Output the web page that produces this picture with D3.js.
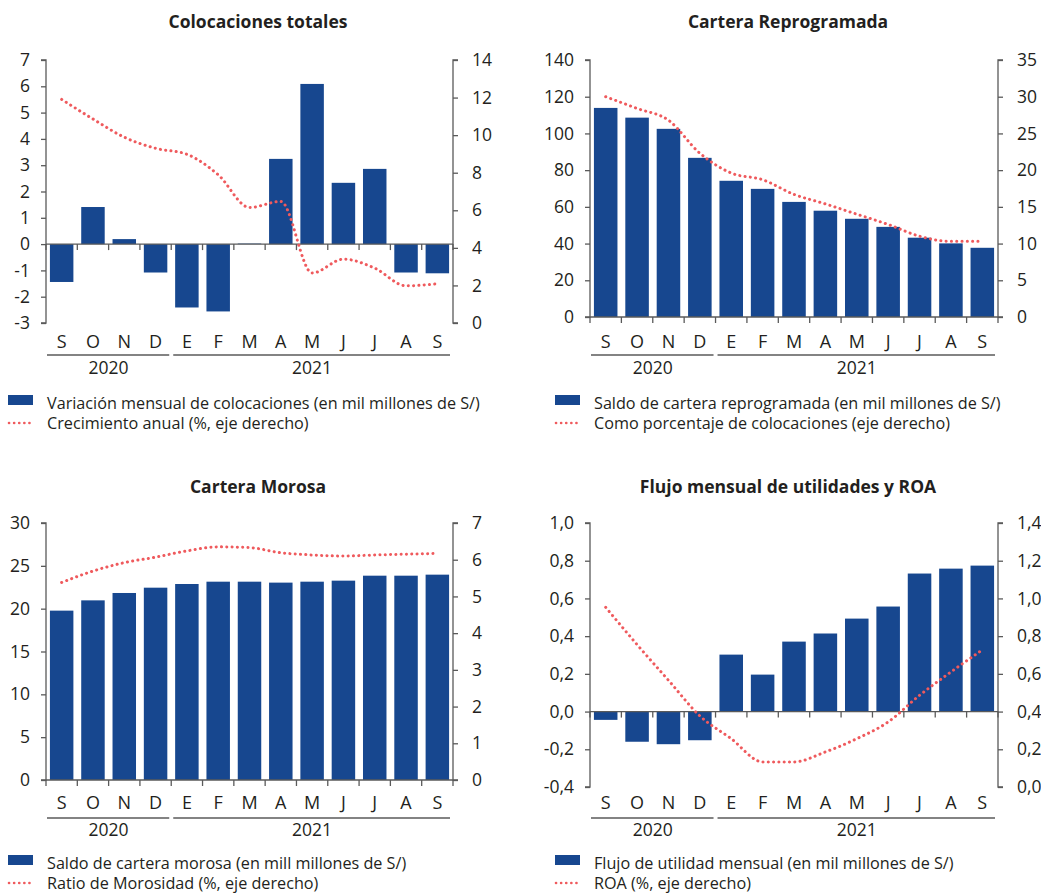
<!DOCTYPE html>
<html>
<head>
<meta charset="utf-8">
<script src="https://cdn.jsdelivr.net/npm/d3@7"></script>
<style>
  body { margin: 0; background: #fff; }
  text { font-family: "Open Sans", sans-serif; fill: #231f20; }
</style>
</head>
<body>
<svg id="chart" width="1041" height="894"></svg>
<script>
// Shared category axis
const months = ["S", "O", "N", "D", "E", "F", "M", "A", "M", "J", "J", "A", "S"];
const years = [
  { label: "2020", from: 0, to: 3 },
  { label: "2021", from: 4, to: 12 }
];

// Colocaciones totales
const colocVariacion = [-1.44, 1.41, 0.19, -1.08, -2.41, -2.56, 0.02, 3.24, 6.09, 2.33, 2.86, -1.08, -1.11];
const colocCrecimiento = [11.9, 10.86, 9.89, 9.3, 8.98, 7.89, 6.15, 6.47, 2.66, 3.4, 2.92, 1.98, 2.09];
const colocLeftTicks = [-3, -2, -1, 0, 1, 2, 3, 4, 5, 6, 7];
const colocRightTicks = [0, 2, 4, 6, 8, 10, 12, 14];

// Cartera Reprogramada
const reprogSaldo = [113.9, 108.6, 102.5, 86.7, 74.2, 69.8, 62.7, 57.9, 53.5, 49.1, 43.2, 40.1, 37.7];
const reprogPorcentaje = [30.0, 28.4, 26.8, 22.3, 19.6, 18.7, 16.7, 15.4, 14.0, 12.6, 11.0, 10.3, 10.3];
const reprogLeftTicks = [0, 20, 40, 60, 80, 100, 120, 140];
const reprogRightTicks = [0, 5, 10, 15, 20, 25, 30, 35];

// Cartera Morosa
const morosaSaldo = [19.77, 20.97, 21.83, 22.45, 22.88, 23.15, 23.15, 23.04, 23.15, 23.27, 23.85, 23.85, 23.97];
const morosaRatio = [5.38, 5.69, 5.92, 6.07, 6.24, 6.35, 6.33, 6.19, 6.13, 6.1, 6.13, 6.15, 6.17];
const morosaLeftTicks = [0, 5, 10, 15, 20, 25, 30];
const morosaRightTicks = [0, 1, 2, 3, 4, 5, 6, 7];

// Flujo mensual de utilidades y ROA
const utilidadFlujo = [-0.044, -0.16, -0.173, -0.152, 0.302, 0.196, 0.371, 0.414, 0.493, 0.557, 0.732, 0.758, 0.774];
const utilidadROA = [0.953, 0.755, 0.566, 0.377, 0.256, 0.133, 0.133, 0.186, 0.256, 0.345, 0.486, 0.61, 0.727];
const utilidadLeftTicks = [-0.4, -0.2, 0, 0.2, 0.4, 0.6, 0.8, 1.0];
const utilidadRightTicks = [0, 0.2, 0.4, 0.6, 0.8, 1.0, 1.2, 1.4];

const BAR = "#17478f";
const LINE = "#ef5a5d";
const AXIS = "#5a5a5a";

const intFmt = v => String(v);
const commaFmt = v => v.toFixed(1).replace(".", ",");

const panels = [
  {
    title: "Colocaciones totales", titleX: 258, titleY: 28,
    x0: 46, x1: 453, yTop: 60, yBot: 323,
    monthY: 348, lineY: 355, yearY: 374,
    bars: colocVariacion, line: colocCrecimiento,
    left: colocLeftTicks, right: colocRightTicks, fmt: intFmt,
    legend: ["Variación mensual de colocaciones (en mil millones de S/)", "Crecimiento anual (%, eje derecho)"],
    legX: 8, legY: 403
  },
  {
    title: "Cartera Reprogramada", titleX: 788, titleY: 28,
    x0: 590, x1: 998, yTop: 60, yBot: 317,
    monthY: 348, lineY: 355, yearY: 374,
    bars: reprogSaldo, line: reprogPorcentaje,
    left: reprogLeftTicks, right: reprogRightTicks, fmt: intFmt,
    legend: ["Saldo de cartera reprogramada (en mil millones de S/)", "Como porcentaje de colocaciones (eje derecho)"],
    legX: 555, legY: 403
  },
  {
    title: "Cartera Morosa", titleX: 258, titleY: 493,
    x0: 46, x1: 453, yTop: 523, yBot: 780,
    monthY: 809, lineY: 818, yearY: 836,
    bars: morosaSaldo, line: morosaRatio,
    left: morosaLeftTicks, right: morosaRightTicks, fmt: intFmt,
    legend: ["Saldo de cartera morosa (en mill millones de S/)", "Ratio de Morosidad (%, eje derecho)"],
    legX: 8, legY: 863
  },
  {
    title: "Flujo mensual de utilidades y ROA", titleX: 788, titleY: 493,
    x0: 590, x1: 998, yTop: 523, yBot: 787,
    monthY: 809, lineY: 818, yearY: 836,
    bars: utilidadFlujo, line: utilidadROA,
    left: utilidadLeftTicks, right: utilidadRightTicks, fmt: commaFmt,
    legend: ["Flujo de utilidad mensual (en mil millones de S/)", "ROA (%, eje derecho)"],
    legX: 555, legY: 863
  }
];

const svg = d3.select("#chart");

panels.forEach(p => {
  const g = svg.append("g");
  const idx = d3.range(months.length);

  const x = d3.scaleBand().domain(idx).range([p.x0, p.x1]).padding(0);
  const barW = x.bandwidth() * 0.75;
  const y = d3.scaleLinear().domain(d3.extent(p.left)).range([p.yBot, p.yTop]);
  const y2 = d3.scaleLinear().domain(d3.extent(p.right)).range([p.yBot, p.yTop]);

  // Title
  g.append("text")
    .attr("x", p.titleX).attr("y", p.titleY)
    .attr("text-anchor", "middle")
    .style("font-weight", "bold").style("font-size", "17.5px")
    .text(p.title);

  // Bars
  g.selectAll("rect.bar").data(p.bars).join("rect")
    .attr("class", "bar")
    .attr("x", (d, i) => x(i) + (x.bandwidth() - barW) / 2)
    .attr("width", barW)
    .attr("y", d => y(Math.max(0, d)))
    .attr("height", d => Math.abs(y(d) - y(0)))
    .attr("fill", BAR);

  // Left axis
  const leftAxis = d3.axisLeft(y).tickValues(p.left).tickFormat(p.fmt).tickSize(5).tickPadding(11);
  const gl = g.append("g").attr("transform", `translate(${p.x0},0)`).call(leftAxis);

  // Right axis
  const rightAxis = d3.axisRight(y2).tickValues(p.right).tickFormat(p.fmt).tickSize(5).tickPadding(14);
  const gr = g.append("g").attr("transform", `translate(${p.x1},0)`).call(rightAxis);

  [gl, gr].forEach(a => {
    a.select(".domain").attr("stroke", AXIS).attr("stroke-width", 1.3);
    a.selectAll(".tick line").attr("stroke", AXIS).attr("stroke-width", 1.3);
    a.selectAll(".tick text").style("font-size", "17.5px").attr("fill", "#231f20")
      .style("font-family", "'Open Sans', sans-serif");
  });
  gr.select(".domain").attr("d", `M5,${p.yTop}H0V${p.yBot}H5`);
  gl.select(".domain").attr("d", `M-5,${p.yTop}H0V${p.yBot}H-5`);

  // Baseline at zero with category boundary ticks
  const y0 = y(0);
  g.append("line")
    .attr("x1", p.x0).attr("x2", p.x1).attr("y1", y0).attr("y2", y0)
    .attr("stroke", AXIS).attr("stroke-width", 1.3);
  const bounds = idx.map(i => x(i)).concat([p.x1]);
  g.selectAll("line.cat").data(bounds).join("line")
    .attr("class", "cat")
    .attr("x1", d => d).attr("x2", d => d)
    .attr("y1", y0).attr("y2", y0 + 6)
    .attr("stroke", AXIS).attr("stroke-width", 1.3);

  // Dotted line on right axis
  const lineGen = d3.line()
    .x((d, i) => x(i) + x.bandwidth() / 2)
    .y(d => y2(d))
    .curve(d3.curveMonotoneX);
  g.append("path")
    .datum(p.line)
    .attr("d", lineGen)
    .attr("fill", "none")
    .attr("stroke", LINE)
    .attr("stroke-width", 3)
    .attr("stroke-linecap", "round")
    .attr("stroke-dasharray", "0.1,5.2");

  // Month labels
  g.selectAll("text.month").data(months).join("text")
    .attr("class", "month")
    .attr("x", (d, i) => x(i) + x.bandwidth() / 2)
    .attr("y", p.monthY)
    .attr("text-anchor", "middle")
    .style("font-size", "18px")
    .text(d => d);

  // Year groups
  years.forEach((yr, k) => {
    const a = x(yr.from) + (k === 0 ? 1 : 2);
    const b = x(yr.to) + x.bandwidth() - (k === years.length - 1 ? 3 : 2);
    g.append("line")
      .attr("x1", a).attr("x2", b).attr("y1", p.lineY).attr("y2", p.lineY)
      .attr("stroke", AXIS).attr("stroke-width", 1.3);
    g.append("text")
      .attr("x", (x(yr.from) + x(yr.to) + x.bandwidth()) / 2)
      .attr("y", p.yearY)
      .attr("text-anchor", "middle")
      .style("font-size", "17.5px")
      .text(yr.label);
  });

  // Legend
  const lg = g.append("g");
  lg.append("rect")
    .attr("x", p.legX).attr("y", p.legY - 8)
    .attr("width", 25).attr("height", 10)
    .attr("fill", BAR);
  lg.append("text")
    .attr("x", p.legX + 39).attr("y", p.legY + 6)
    .style("font-size", "16.2px")
    .text(p.legend[0]);
  lg.append("line")
    .attr("x1", p.legX + 1).attr("x2", p.legX + 25)
    .attr("y1", p.legY + 20).attr("y2", p.legY + 20)
    .attr("stroke", LINE).attr("stroke-width", 2.6)
    .attr("stroke-linecap", "round")
    .attr("stroke-dasharray", "0.1,5");
  lg.append("text")
    .attr("x", p.legX + 39).attr("y", p.legY + 26)
    .style("font-size", "16.2px")
    .text(p.legend[1]);
});
</script>
</body>
</html>
